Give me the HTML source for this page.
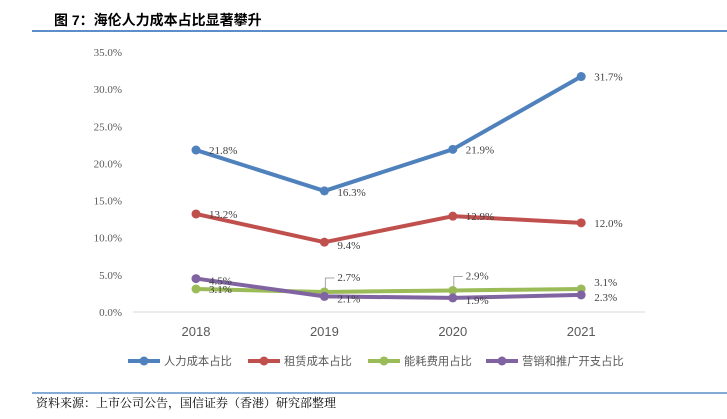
<!DOCTYPE html>
<html><head><meta charset="utf-8"><style>
body{margin:0;background:#fff;width:727px;height:414px;overflow:hidden;font-family:"Liberation Serif","Noto Serif CJK SC",serif}
</style></head><body>
<svg width="727" height="414" xmlns="http://www.w3.org/2000/svg">
<text x="54" y="25" font-size="14" font-weight="bold" fill="#000" font-family="Liberation Sans, Noto Sans CJK SC, sans-serif">图 7：海伦人力成本占比显著攀升</text>
<line x1="32" y1="31" x2="727" y2="31" stroke="#5b8fc9" stroke-width="2"/>
<g id="yaxis"></g>
<g id="xaxis"></g>
<g id="series"></g>
<g id="legend"></g>
<line x1="32" y1="393" x2="727" y2="393" stroke="#5b8fc9" stroke-width="1.5"/>
<text x="36" y="407" font-size="12" fill="#000">资料来源：上市公司公告，国信证券（香港）研究部整理</text>
</svg>
<script>
const categories=["2018","2019","2020","2021"];
const labor=[21.8,16.3,21.9,31.7];
const rent=[13.2,9.4,12.9,12.0];
const energy=[3.1,2.7,2.9,3.1];
const marketing=[4.5,2.1,1.9,2.3];
const seriesNames=["人力成本占比","租赁成本占比","能耗费用占比","营销和推广开支占比"];
const yTicks=[0,5,10,15,20,25,30,35];
const NS="http://www.w3.org/2000/svg";
function y(v){return 312-v*260/35;}
function x(i){return 196+i*128.4;}
function mk(t,a,p){const e=document.createElementNS(NS,t);for(const k in a)e.setAttribute(k,a[k]);p.appendChild(e);return e;}
const ya=document.getElementById('yaxis');
yTicks.forEach(t=>{const tx=mk('text',{x:122,y:y(t)+4,'font-size':11,fill:'#595959','text-anchor':'end'},ya);tx.textContent=t.toFixed(1)+'%';

});
mk('line',{x1:133,y1:312,x2:645,y2:312,stroke:'#d9d9d9','stroke-width':1},ya);
const xa=document.getElementById('xaxis');
categories.forEach((c,i)=>{const tx=mk('text',{x:x(i),y:336,'font-size':13,fill:'#595959','text-anchor':'middle','font-family':'Liberation Sans, sans-serif'},xa);tx.textContent=c;

});
const colors=["#4f81bd","#c0504d","#9bbb59","#8064a2"];
const data=[labor,rent,energy,marketing];
const sg=document.getElementById('series');
data.forEach((d,s)=>{const g=mk('g',{},sg);


mk('polyline',{points:d.map((v,i)=>x(i)+','+y(v)).join(' '),fill:'none',stroke:colors[s],'stroke-width':4,'stroke-linejoin':'round'},g);
d.forEach((v,i)=>{const c=mk('circle',{cx:x(i),cy:y(v),r:4.5,fill:colors[s]},g);


let lx=x(i)+13,ly=y(v)+4;
if(s==2&&(i==1||i==2)){ly=y(v)-11;mk('polyline',{points:(x(i)+1)+','+(y(v)-4)+' '+(x(i)+1)+','+(y(v)-14)+' '+(x(i)+10)+','+(y(v)-14),fill:'none',stroke:'#a6a6a6','stroke-width':1},g);}
if(s==2&&i==3)ly=y(v)-3;
if(s==3&&i<3)ly=y(v)+6;
if(s==3&&i==3)ly=y(v)+6;
if(s==0&&i==1)ly=y(v)+5;
if(s==1&&i==1)ly=y(v)+7;
const t=mk('text',{x:lx,y:ly,'font-size':11,fill:'#404040'},g);t.textContent=v.toFixed(1)+'%';

});});
const lg=document.getElementById('legend');
const lxs=[128,248,368,486];
seriesNames.forEach((n,s)=>{const g=mk('g',{},lg);


mk('line',{x1:lxs[s],y1:361,x2:lxs[s]+32,y2:361,stroke:colors[s],'stroke-width':4},g);
mk('circle',{cx:lxs[s]+16,cy:361,r:4.5,fill:colors[s]},g);
const t=mk('text',{x:lxs[s]+36,y:365,'font-size':11.3,fill:'#595959','font-family':'Liberation Sans, Noto Sans CJK SC, sans-serif'},g);t.textContent=n;});
</script>
</body></html>
